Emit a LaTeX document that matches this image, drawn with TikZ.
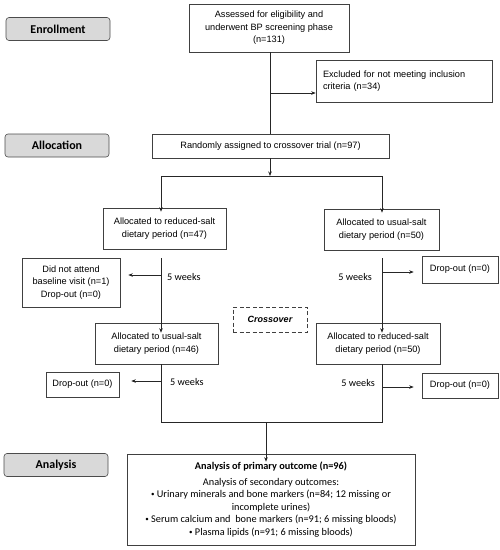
\documentclass[tikz,border=0pt]{standalone}
\usepackage{fontspec}
\setmainfont{Liberation Sans}
\newfontfamily\calib{Carlito}
\usetikzlibrary{arrows.meta}
\newcommand{\bul}{\raisebox{1.2pt}{\scriptsize\textbullet}}
\begin{document}
\begin{tikzpicture}[x=1pt,y=-1pt,
  box/.style={draw=black!75,line width=0.6pt,align=center,inner sep=1pt,font=\fontsize{9.2}{12.5}\selectfont},
  phase/.style={draw=black!70,line width=0.6pt,rounded corners=3pt,fill=black!15,font=\calib\bfseries\fontsize{12}{13}\selectfont,minimum width=104pt,minimum height=23pt},
  conn/.style={line width=0.6pt,black!85},
  arr/.style={conn,-{Stealth[length=4.5pt,width=3.5pt]}},
  lbl/.style={font=\calib\fontsize{10.2}{11}\selectfont,inner sep=0pt}]
\useasboundingbox (0,0) rectangle (500,550);
% phase labels
\node[phase] (enr) at (58,29) {Enrollment};
\node[phase] (alo) at (57,145.5) {Allocation};
\node[phase] (ana) at (56,465) {Analysis};
% boxes
\node[box,minimum width=160pt,minimum height=48pt] (ass) at (269,28) {Assessed for eligibility and\\underwent BP screening phase\\(n=131)};
\node[box,minimum width=176pt,minimum height=42pt,align=left,text width=162pt] (exc) at (404,81) {Excluded for not meeting inclusion\\criteria (n=34)};
\node[box,minimum width=237pt,minimum height=24pt] (ran) at (270.5,146) {Randomly assigned to crossover trial (n=97)};
\node[box,minimum width=123pt,minimum height=41pt] (r47) at (164.5,228.5) {Allocated to reduced-salt\\dietary period (n=47)};
\node[box,minimum width=115pt,minimum height=41pt] (u50) at (381.5,229.5) {Allocated to usual-salt\\dietary period (n=50)};
\node[box,minimum width=98pt,minimum height=49pt] (dna) at (71,282.5) {Did not attend\\baseline visit (n=1)\\Drop-out (n=0)};
\node[box,minimum width=76pt,minimum height=27pt] (d1) at (460,269.5) {Drop-out (n=0)};
\node[box,minimum width=123pt,minimum height=41pt] (u46) at (156.5,343.5) {Allocated to usual-salt\\dietary period (n=46)};
\node[box,minimum width=124pt,minimum height=41pt] (r50) at (378,343.5) {Allocated to reduced-salt\\dietary period (n=50)};
\node[box,dashed,dash pattern=on 4pt off 2.5pt,minimum width=74pt,minimum height=25pt,font=\bfseries\itshape\fontsize{9}{12}\selectfont] (cro) at (270,319.5) {Crossover};
\node[box,minimum width=73pt,minimum height=25pt] (d2) at (82.5,384.5) {Drop-out (n=0)};
\node[box,minimum width=76pt,minimum height=25pt] (d3) at (460,385.5) {Drop-out (n=0)};
\node[box,minimum width=288pt,minimum height=91pt,font=\calib\fontsize{10.3}{12.6}\selectfont] (out) at (271,499.5) {\textbf{Analysis of primary outcome (n=96)}\\[3pt]Analysis of secondary outcomes:\\\bul{} Urinary minerals and bone markers (n=84; 12 missing or\\incomplete urines)\\\bul{} Serum calcium and\ \ bone markers (n=91; 6 missing bloods)\\\bul{} Plasma lipids (n=91; 6 missing bloods)};
% labels
\node[lbl,anchor=west] (w1) at (167,277) {5 weeks};
\node[lbl,anchor=east] (w2) at (372,277) {5 weeks};
\node[lbl,anchor=west] (w3) at (170,382) {5 weeks};
\node[lbl,anchor=east] (w4) at (375,383) {5 weeks};
% coordinates
\coordinate (e1) at (270,93);
\coordinate (s1) at (270,176);
\coordinate (sl) at (161,176);
\coordinate (sr) at (382,176);
\coordinate (l1) at (161,258);
\coordinate (l2) at (161,275);
\coordinate (r1) at (382,258);
\coordinate (r2) at (382,272);
\coordinate (l3) at (161,381);
\coordinate (r3) at (382,387);
\coordinate (jl) at (161,422);
\coordinate (jr) at (382,422);
\coordinate (jm) at (266,422);
% connectors
\draw[conn] (ass.south -| e1) -- (ran.north -| e1);
\draw[arr] (e1) -- (exc.west |- e1);
\draw[arr] (ran.south -| s1) -- (s1);
\draw[conn] (sl) -- (sr);
\draw[arr] (sl) -- ([yshift=-4pt]r47.north -| sl);
\draw[arr] (sr) -- ([yshift=-4pt]u50.north -| sr);
\draw[arr] (l1) -- ([yshift=-10pt]u46.north -| l1);
\draw[arr] (l2) -- ([xshift=8pt]dna.east |- l2);
\draw[arr] (r1) -- ([yshift=-10pt]r50.north -| r1);
\draw[arr] (r2) -- ([xshift=-8pt]d1.west |- r2);
\draw[conn] (u46.south -| jl) -- (jl) -- (jr) -- (r50.south -| jr);
\draw[arr] (l3) -- ([xshift=12pt]d2.east |- l3);
\draw[arr] (r3) -- ([xshift=-8pt]d3.west |- r3);
\draw[arr] (jm) -- ([yshift=-8pt]out.north -| jm);
\end{tikzpicture}
\end{document}
